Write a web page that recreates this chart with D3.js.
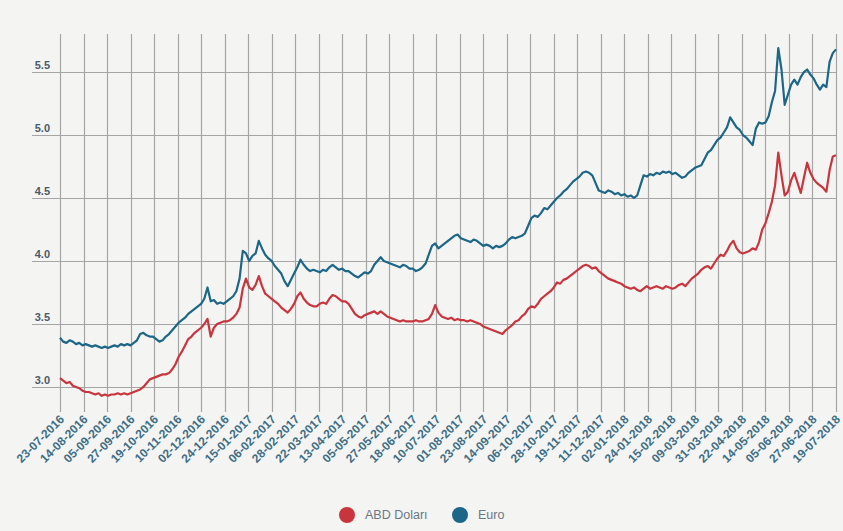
<!DOCTYPE html>
<html><head><meta charset="utf-8">
<script src="https://cdn.jsdelivr.net/npm/d3@7"></script>
<style>
html,body{margin:0;padding:0;background:#f4f4f2;}
svg{display:block;}
</style></head>
<body>
<svg id="chart" width="843" height="531"></svg>
<script>
// ---- DATA ----
const startDate = "2016-07-23";
const stepDays = 3;
const usdValues = [
3.07,3.05,3.03,3.04,3.01,3.00,2.99,2.97,2.96,2.96,
2.95,2.94,2.95,2.93,2.94,2.93,2.94,2.94,2.95,2.94,
2.95,2.94,2.95,2.96,2.97,2.98,3.00,3.03,3.06,3.07,
3.08,3.09,3.10,3.10,3.11,3.14,3.18,3.24,3.28,3.33,
3.38,3.40,3.43,3.45,3.47,3.50,3.54,3.40,3.47,3.50,
3.51,3.52,3.52,3.53,3.55,3.58,3.63,3.78,3.86,3.79,
3.77,3.81,3.88,3.80,3.74,3.72,3.70,3.68,3.66,3.63,
3.61,3.59,3.62,3.66,3.72,3.75,3.70,3.67,3.65,3.64,
3.64,3.66,3.67,3.66,3.70,3.73,3.72,3.70,3.68,3.68,
3.66,3.62,3.58,3.56,3.55,3.57,3.58,3.59,3.60,3.58,
3.60,3.58,3.56,3.55,3.54,3.53,3.52,3.53,3.52,3.52,
3.52,3.53,3.52,3.52,3.53,3.54,3.58,3.65,3.59,3.56,
3.55,3.54,3.55,3.53,3.54,3.53,3.53,3.52,3.53,3.52,
3.51,3.50,3.48,3.47,3.46,3.45,3.44,3.43,3.42,3.45,
3.47,3.49,3.52,3.53,3.56,3.58,3.62,3.64,3.63,3.66,
3.70,3.72,3.74,3.76,3.79,3.83,3.82,3.85,3.86,3.88,
3.90,3.92,3.94,3.96,3.97,3.96,3.94,3.95,3.92,3.90,
3.88,3.86,3.85,3.84,3.83,3.82,3.80,3.79,3.78,3.79,
3.77,3.76,3.78,3.80,3.78,3.79,3.80,3.79,3.78,3.80,
3.79,3.78,3.79,3.81,3.82,3.80,3.83,3.86,3.88,3.90,
3.93,3.95,3.96,3.94,3.98,4.02,4.05,4.04,4.08,4.13,
4.16,4.10,4.07,4.06,4.07,4.08,4.10,4.09,4.15,4.25,
4.30,4.38,4.47,4.60,4.86,4.68,4.52,4.55,4.64,4.70,
4.62,4.54,4.66,4.78,4.70,4.65,4.62,4.60,4.58,4.55,
4.72,4.83,4.84
];
const eurValues = [
3.39,3.36,3.35,3.37,3.36,3.34,3.35,3.33,3.34,3.33,
3.32,3.33,3.32,3.31,3.32,3.31,3.32,3.33,3.32,3.34,
3.33,3.34,3.33,3.35,3.37,3.42,3.43,3.41,3.40,3.40,
3.38,3.36,3.37,3.40,3.42,3.45,3.48,3.51,3.53,3.55,
3.58,3.60,3.62,3.64,3.66,3.70,3.79,3.68,3.69,3.66,
3.67,3.66,3.68,3.70,3.72,3.76,3.86,4.08,4.06,4.00,
4.04,4.06,4.16,4.10,4.05,4.02,4.00,3.96,3.93,3.90,
3.84,3.80,3.85,3.90,3.95,4.01,3.97,3.94,3.92,3.93,
3.92,3.91,3.93,3.92,3.95,3.97,3.95,3.93,3.94,3.92,
3.92,3.90,3.88,3.87,3.89,3.91,3.90,3.92,3.97,4.00,
4.03,4.00,3.99,3.98,3.97,3.96,3.95,3.97,3.96,3.94,
3.94,3.92,3.93,3.95,3.98,4.05,4.12,4.14,4.10,4.12,
4.14,4.16,4.18,4.20,4.21,4.18,4.17,4.16,4.15,4.17,
4.16,4.14,4.12,4.13,4.12,4.10,4.12,4.11,4.12,4.14,
4.17,4.19,4.18,4.19,4.20,4.22,4.28,4.34,4.36,4.35,
4.38,4.42,4.41,4.44,4.47,4.50,4.52,4.55,4.57,4.60,
4.63,4.65,4.67,4.70,4.71,4.70,4.68,4.62,4.56,4.55,
4.54,4.56,4.55,4.53,4.54,4.52,4.53,4.51,4.52,4.50,
4.52,4.60,4.68,4.67,4.69,4.68,4.70,4.69,4.71,4.70,
4.71,4.69,4.70,4.68,4.66,4.67,4.70,4.72,4.74,4.75,
4.76,4.81,4.86,4.88,4.92,4.96,4.98,5.02,5.06,5.14,
5.10,5.06,5.04,5.00,4.98,4.95,4.92,5.05,5.10,5.09,
5.10,5.15,5.26,5.35,5.69,5.52,5.24,5.32,5.40,5.44,
5.40,5.46,5.50,5.52,5.48,5.45,5.40,5.36,5.40,5.38,
5.58,5.65,5.68
];
const tickLabels = ["23-07-2016","14-08-2016","05-09-2016","27-09-2016","19-10-2016","10-11-2016","02-12-2016","24-12-2016","15-01-2017","06-02-2017","28-02-2017","22-03-2017","13-04-2017","05-05-2017","27-05-2017","18-06-2017","10-07-2017","01-08-2017","23-08-2017","14-09-2017","06-10-2017","28-10-2017","19-11-2017","11-12-2017","02-01-2018","24-01-2018","15-02-2018","09-03-2018","31-03-2018","22-04-2018","14-05-2018","05-06-2018","27-06-2018","19-07-2018"];
const yTicks = [3.0, 3.5, 4.0, 4.5, 5.0, 5.5];
const seriesNames = ["ABD Doları", "Euro"];
const seriesColors = ["#c8353d", "#1d6688"];

// ---- CHART ----
const parseIso = d3.timeParse("%Y-%m-%d");
const parseTick = d3.timeParse("%d-%m-%Y");
const start = parseIso(startDate);
const dates = usdValues.map((_, i) => d3.timeDay.offset(start, i * stepDays));
const tickDates = tickLabels.map(parseTick);

const svg = d3.select("#chart");
const x = d3.scaleTime().domain([tickDates[0], tickDates[tickDates.length - 1]]).range([60, 836]);
const y = d3.scaleLinear().domain([2.817, 5.802]).range([410, 34]);

const font = "'Liberation Sans', Arial, sans-serif";

// horizontal grid
svg.append("g").selectAll("line").data(yTicks).join("line")
  .attr("x1", 32).attr("x2", 837)
  .attr("y1", d => Math.round(y(d)) + 0.5).attr("y2", d => Math.round(y(d)) + 0.5)
  .attr("stroke", "#a5a5a5").attr("stroke-width", 1);

// vertical grid
svg.append("g").selectAll("line").data(tickDates).join("line")
  .attr("x1", d => Math.round(x(d)) + 0.5).attr("x2", d => Math.round(x(d)) + 0.5)
  .attr("y1", 34).attr("y2", 412)
  .attr("stroke", "#a5a5a5").attr("stroke-width", 1.2);

// y labels
svg.append("g").selectAll("text").data(yTicks).join("text")
  .attr("x", 50).attr("y", d => y(d) - 3)
  .attr("text-anchor", "end")
  .attr("font-family", font).attr("font-size", 11).attr("font-weight", "bold")
  .attr("fill", "#4d5a68")
  .text(d => d.toFixed(1));

// x labels
svg.append("g").selectAll("text").data(tickDates).join("text")
  .attr("transform", d => `translate(${x(d) + 5},${420}) rotate(-45)`)
  .attr("text-anchor", "end")
  .attr("font-family", font).attr("font-size", 12).attr("font-weight", "bold")
  .attr("fill", "#3f6f86")
  .text((d, i) => tickLabels[i]);

// lines
const line = d3.line().x(d => x(d[0])).y(d => y(d[1])).curve(d3.curveLinear);
[usdValues, eurValues].forEach((vals, k) => {
  svg.append("path")
    .datum(vals.map((v, i) => [dates[i], v]))
    .attr("d", line)
    .attr("fill", "none")
    .attr("stroke", seriesColors[k])
    .attr("stroke-width", 2.2)
    .attr("stroke-linejoin", "round");
});

// legend
const legendX = [347, 460];
const lg = svg.append("g");
seriesNames.forEach((name, k) => {
  lg.append("circle").attr("cx", legendX[k]).attr("cy", 515).attr("r", 8).attr("fill", seriesColors[k]);
  lg.append("text").attr("x", legendX[k] + 18).attr("y", 519)
    .attr("font-family", font).attr("font-size", 12.5)
    .attr("fill", "#6b7886").text(name);
});
</script>
</body></html>
